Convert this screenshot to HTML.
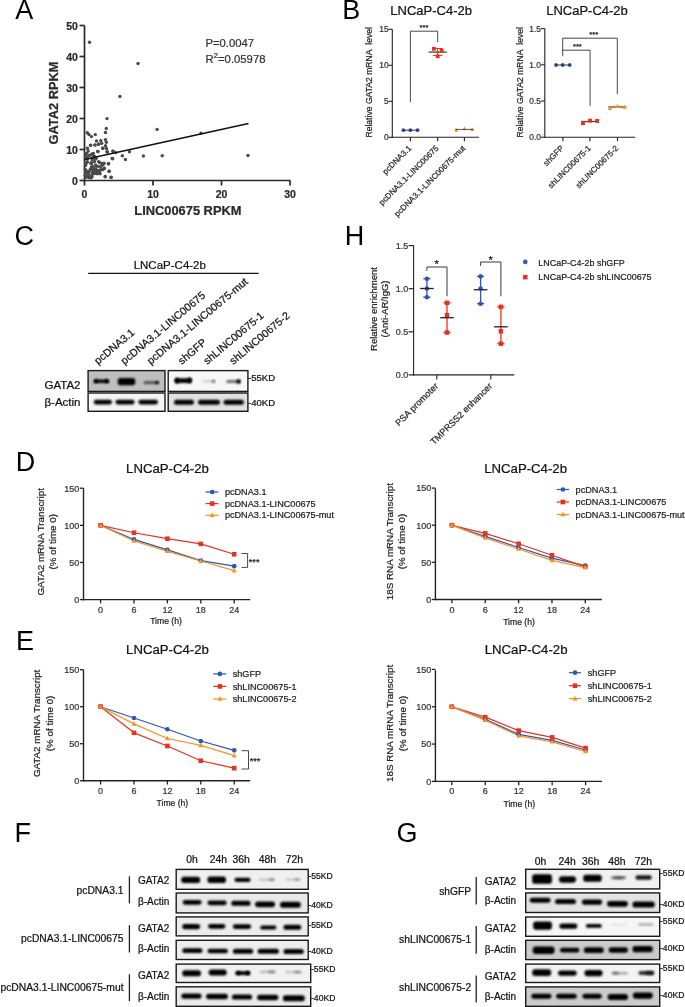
<!DOCTYPE html>
<html><head><meta charset="utf-8"><title>Figure</title>
<style>
html,body{margin:0;padding:0;background:#fff;}
body{width:685px;height:1007px;overflow:hidden;}
svg{display:block;font-family:"Liberation Sans", sans-serif;will-change:transform;}
</style></head><body>
<svg width="685" height="1007" viewBox="0 0 685 1007">
<defs><filter id="b1" x="-30%" y="-100%" width="160%" height="300%"><feGaussianBlur stdDeviation="0.85"/></filter></defs>
<rect width="685" height="1007" fill="#fff"/>
<text x="15.3" y="18.8" font-size="27" fill="#000">A</text>
<text x="342.2" y="18.7" font-size="27" fill="#000">B</text>
<text x="14.5" y="245" font-size="27" fill="#000">C</text>
<text x="344.8" y="245.1" font-size="27" fill="#000">H</text>
<text x="15.7" y="470.9" font-size="27" fill="#000">D</text>
<text x="15.9" y="649.6" font-size="27" fill="#000">E</text>
<text x="14.6" y="841.8" font-size="27" fill="#000">F</text>
<text x="396.6" y="841.6" font-size="27" fill="#000">G</text>
<line x1="84.5" y1="25.5" x2="84.5" y2="181.35" stroke="#2a2a2a" stroke-width="1.7"/>
<line x1="83.65" y1="180.5" x2="290.5" y2="180.5" stroke="#2a2a2a" stroke-width="1.7"/>
<line x1="79.5" y1="180.5" x2="84.5" y2="180.5" stroke="#2a2a2a" stroke-width="1.7"/>
<text x="77.9" y="185.2" font-size="10.5" text-anchor="end" font-weight="bold" fill="#2a2a2a" stroke="#2a2a2a" stroke-width="0.22">0</text>
<line x1="79.5" y1="149.5" x2="84.5" y2="149.5" stroke="#2a2a2a" stroke-width="1.7"/>
<text x="77.9" y="154.2" font-size="10.5" text-anchor="end" font-weight="bold" fill="#2a2a2a" stroke="#2a2a2a" stroke-width="0.22">10</text>
<line x1="79.5" y1="118.5" x2="84.5" y2="118.5" stroke="#2a2a2a" stroke-width="1.7"/>
<text x="77.9" y="123.2" font-size="10.5" text-anchor="end" font-weight="bold" fill="#2a2a2a" stroke="#2a2a2a" stroke-width="0.22">20</text>
<line x1="79.5" y1="87.5" x2="84.5" y2="87.5" stroke="#2a2a2a" stroke-width="1.7"/>
<text x="77.9" y="92.2" font-size="10.5" text-anchor="end" font-weight="bold" fill="#2a2a2a" stroke="#2a2a2a" stroke-width="0.22">30</text>
<line x1="79.5" y1="56.5" x2="84.5" y2="56.5" stroke="#2a2a2a" stroke-width="1.7"/>
<text x="77.9" y="61.2" font-size="10.5" text-anchor="end" font-weight="bold" fill="#2a2a2a" stroke="#2a2a2a" stroke-width="0.22">40</text>
<line x1="79.5" y1="25.5" x2="84.5" y2="25.5" stroke="#2a2a2a" stroke-width="1.7"/>
<text x="77.9" y="30.2" font-size="10.5" text-anchor="end" font-weight="bold" fill="#2a2a2a" stroke="#2a2a2a" stroke-width="0.22">50</text>
<line x1="84.5" y1="180.5" x2="84.5" y2="185.5" stroke="#2a2a2a" stroke-width="1.7"/>
<text x="84.5" y="197.5" font-size="10.5" text-anchor="middle" font-weight="bold" fill="#2a2a2a" stroke="#2a2a2a" stroke-width="0.22">0</text>
<line x1="153" y1="180.5" x2="153" y2="185.5" stroke="#2a2a2a" stroke-width="1.7"/>
<text x="153" y="197.5" font-size="10.5" text-anchor="middle" font-weight="bold" fill="#2a2a2a" stroke="#2a2a2a" stroke-width="0.22">10</text>
<line x1="221.5" y1="180.5" x2="221.5" y2="185.5" stroke="#2a2a2a" stroke-width="1.7"/>
<text x="221.5" y="197.5" font-size="10.5" text-anchor="middle" font-weight="bold" fill="#2a2a2a" stroke="#2a2a2a" stroke-width="0.22">20</text>
<line x1="290" y1="180.5" x2="290" y2="185.5" stroke="#2a2a2a" stroke-width="1.7"/>
<text x="290" y="197.5" font-size="10.5" text-anchor="middle" font-weight="bold" fill="#2a2a2a" stroke="#2a2a2a" stroke-width="0.22">30</text>
<text x="57.6" y="103" font-size="12.85" text-anchor="middle" font-weight="bold" fill="#2a2a2a" stroke="#2a2a2a" stroke-width="0.22" transform="rotate(-90 57.6 103)">GATA2 RPKM</text>
<text x="187.9" y="215" font-size="12.85" text-anchor="middle" font-weight="bold" fill="#2a2a2a" stroke="#2a2a2a" stroke-width="0.22">LINC00675 RPKM</text>
<text x="205.4" y="47" font-size="11.3" fill="#333" stroke="#333" stroke-width="0.22">P=0.0047</text>
<text x="205.4" y="62.9" font-size="11.3" fill="#333" stroke="#333" stroke-width="0.22">R<tspan font-size="8" dy="-4.9">2</tspan><tspan dy="4.9">=0.05978</tspan></text>
<circle cx="89.5" cy="42.3" r="1.7" fill="#4a4a4a"/>
<circle cx="138" cy="63.5" r="1.7" fill="#4a4a4a"/>
<circle cx="119.9" cy="96.5" r="1.7" fill="#4a4a4a"/>
<circle cx="107" cy="118.6" r="1.7" fill="#4a4a4a"/>
<circle cx="157.1" cy="129.4" r="1.7" fill="#4a4a4a"/>
<circle cx="201" cy="133.2" r="1.7" fill="#4a4a4a"/>
<circle cx="248" cy="155.5" r="1.7" fill="#4a4a4a"/>
<circle cx="162.2" cy="155.8" r="1.7" fill="#4a4a4a"/>
<circle cx="143.4" cy="156" r="1.7" fill="#4a4a4a"/>
<circle cx="129.5" cy="151.7" r="1.7" fill="#4a4a4a"/>
<circle cx="122.3" cy="155.8" r="1.7" fill="#4a4a4a"/>
<circle cx="125.4" cy="159.5" r="1.7" fill="#4a4a4a"/>
<circle cx="112.1" cy="158.5" r="1.7" fill="#4a4a4a"/>
<circle cx="106.3" cy="128.5" r="1.7" fill="#4a4a4a"/>
<circle cx="105.5" cy="132.5" r="1.7" fill="#4a4a4a"/>
<circle cx="87.3" cy="132.7" r="1.7" fill="#4a4a4a"/>
<circle cx="89" cy="134.5" r="1.7" fill="#4a4a4a"/>
<circle cx="91.5" cy="136.6" r="1.7" fill="#4a4a4a"/>
<circle cx="95.3" cy="134.6" r="1.7" fill="#4a4a4a"/>
<circle cx="96.5" cy="141" r="1.7" fill="#4a4a4a"/>
<circle cx="100.8" cy="140.6" r="1.7" fill="#4a4a4a"/>
<circle cx="105.5" cy="139.7" r="1.7" fill="#4a4a4a"/>
<circle cx="106.3" cy="142.3" r="1.7" fill="#4a4a4a"/>
<circle cx="101.7" cy="143.2" r="1.7" fill="#4a4a4a"/>
<circle cx="98.5" cy="144.3" r="1.7" fill="#4a4a4a"/>
<circle cx="95" cy="145.1" r="1.7" fill="#4a4a4a"/>
<circle cx="90.6" cy="145.4" r="1.7" fill="#4a4a4a"/>
<circle cx="105.5" cy="145.8" r="1.7" fill="#4a4a4a"/>
<circle cx="102.8" cy="148.2" r="1.7" fill="#4a4a4a"/>
<circle cx="106.5" cy="148.5" r="1.7" fill="#4a4a4a"/>
<circle cx="87.4" cy="148.2" r="1.7" fill="#4a4a4a"/>
<circle cx="107.4" cy="152" r="1.7" fill="#4a4a4a"/>
<circle cx="113.1" cy="151.1" r="1.7" fill="#4a4a4a"/>
<circle cx="115.7" cy="152.6" r="1.7" fill="#4a4a4a"/>
<circle cx="97.9" cy="151.5" r="1.7" fill="#4a4a4a"/>
<circle cx="108.3" cy="163.8" r="1.7" fill="#4a4a4a"/>
<circle cx="109.2" cy="171.2" r="1.7" fill="#4a4a4a"/>
<circle cx="105.2" cy="176.8" r="1.7" fill="#4a4a4a"/>
<circle cx="111.1" cy="177.4" r="1.7" fill="#4a4a4a"/>
<circle cx="99.5" cy="172.6" r="1.7" fill="#4a4a4a"/>
<circle cx="94.3" cy="172.6" r="1.7" fill="#4a4a4a"/>
<circle cx="104.3" cy="168.2" r="1.7" fill="#4a4a4a"/>
<circle cx="103" cy="164.7" r="1.7" fill="#4a4a4a"/>
<circle cx="99.5" cy="162.5" r="1.7" fill="#4a4a4a"/>
<circle cx="109.1" cy="171.2" r="1.7" fill="#4a4a4a"/>
<circle cx="105.2" cy="176.5" r="1.7" fill="#4a4a4a"/>
<circle cx="111.1" cy="177.3" r="1.7" fill="#4a4a4a"/>
<circle cx="112.7" cy="158.7" r="1.7" fill="#4a4a4a"/>
<circle cx="108.6" cy="163.8" r="1.7" fill="#4a4a4a"/>
<circle cx="112.9" cy="151.2" r="1.7" fill="#4a4a4a"/>
<circle cx="97.8" cy="151.5" r="1.7" fill="#4a4a4a"/>
<circle cx="90.7" cy="145.1" r="1.7" fill="#4a4a4a"/>
<circle cx="95" cy="144.9" r="1.7" fill="#4a4a4a"/>
<circle cx="98.6" cy="144.3" r="1.7" fill="#4a4a4a"/>
<circle cx="102.7" cy="148.2" r="1.7" fill="#4a4a4a"/>
<circle cx="107" cy="151.8" r="1.7" fill="#4a4a4a"/>
<circle cx="97.76" cy="171.25" r="1.7" fill="#4a4a4a"/>
<circle cx="85.88" cy="162.97" r="1.7" fill="#4a4a4a"/>
<circle cx="104.17" cy="168.47" r="1.7" fill="#4a4a4a"/>
<circle cx="94.68" cy="156.4" r="1.7" fill="#4a4a4a"/>
<circle cx="96.18" cy="166.22" r="1.7" fill="#4a4a4a"/>
<circle cx="85.56" cy="155.5" r="1.7" fill="#4a4a4a"/>
<circle cx="90.89" cy="176.49" r="1.7" fill="#4a4a4a"/>
<circle cx="85.34" cy="175.14" r="1.7" fill="#4a4a4a"/>
<circle cx="89.49" cy="155.46" r="1.7" fill="#4a4a4a"/>
<circle cx="91.09" cy="177.84" r="1.7" fill="#4a4a4a"/>
<circle cx="96.08" cy="169.33" r="1.7" fill="#4a4a4a"/>
<circle cx="89.4" cy="177.23" r="1.7" fill="#4a4a4a"/>
<circle cx="92.52" cy="153.98" r="1.7" fill="#4a4a4a"/>
<circle cx="88.21" cy="150.95" r="1.7" fill="#4a4a4a"/>
<circle cx="91.33" cy="167.09" r="1.7" fill="#4a4a4a"/>
<circle cx="85.37" cy="169.34" r="1.7" fill="#4a4a4a"/>
<circle cx="92.06" cy="158.3" r="1.7" fill="#4a4a4a"/>
<circle cx="101.67" cy="163.42" r="1.7" fill="#4a4a4a"/>
<circle cx="91.62" cy="163.44" r="1.7" fill="#4a4a4a"/>
<circle cx="85.66" cy="172.63" r="1.7" fill="#4a4a4a"/>
<circle cx="92.62" cy="166.36" r="1.7" fill="#4a4a4a"/>
<circle cx="88.92" cy="177.66" r="1.7" fill="#4a4a4a"/>
<circle cx="89.23" cy="171.67" r="1.7" fill="#4a4a4a"/>
<circle cx="92.19" cy="159.64" r="1.7" fill="#4a4a4a"/>
<circle cx="95.79" cy="172.27" r="1.7" fill="#4a4a4a"/>
<circle cx="87.46" cy="171.45" r="1.7" fill="#4a4a4a"/>
<circle cx="86.03" cy="177.37" r="1.7" fill="#4a4a4a"/>
<circle cx="87.12" cy="159.22" r="1.7" fill="#4a4a4a"/>
<circle cx="92.1" cy="176.73" r="1.7" fill="#4a4a4a"/>
<circle cx="96.2" cy="158.37" r="1.7" fill="#4a4a4a"/>
<circle cx="91.64" cy="154.32" r="1.7" fill="#4a4a4a"/>
<circle cx="86.86" cy="153.47" r="1.7" fill="#4a4a4a"/>
<circle cx="93.42" cy="156.12" r="1.7" fill="#4a4a4a"/>
<circle cx="97.18" cy="173.79" r="1.7" fill="#4a4a4a"/>
<circle cx="94.41" cy="161.65" r="1.7" fill="#4a4a4a"/>
<circle cx="86.41" cy="176.48" r="1.7" fill="#4a4a4a"/>
<circle cx="85.95" cy="163.81" r="1.7" fill="#4a4a4a"/>
<circle cx="97.91" cy="172.64" r="1.7" fill="#4a4a4a"/>
<circle cx="87.43" cy="162.04" r="1.7" fill="#4a4a4a"/>
<circle cx="88.28" cy="174.34" r="1.7" fill="#4a4a4a"/>
<circle cx="91.2" cy="162.59" r="1.7" fill="#4a4a4a"/>
<circle cx="95.06" cy="170.89" r="1.7" fill="#4a4a4a"/>
<circle cx="94.88" cy="157.73" r="1.7" fill="#4a4a4a"/>
<circle cx="93.38" cy="153.4" r="1.7" fill="#4a4a4a"/>
<circle cx="95.29" cy="159.15" r="1.7" fill="#4a4a4a"/>
<circle cx="87.08" cy="157.17" r="1.7" fill="#4a4a4a"/>
<circle cx="92.53" cy="172.58" r="1.7" fill="#4a4a4a"/>
<circle cx="100.8" cy="169.84" r="1.7" fill="#4a4a4a"/>
<circle cx="98.58" cy="171.79" r="1.7" fill="#4a4a4a"/>
<circle cx="92.57" cy="170.13" r="1.7" fill="#4a4a4a"/>
<circle cx="90.92" cy="163.57" r="1.7" fill="#4a4a4a"/>
<circle cx="100.69" cy="169.73" r="1.7" fill="#4a4a4a"/>
<circle cx="91.18" cy="177.37" r="1.7" fill="#4a4a4a"/>
<circle cx="98.29" cy="166.42" r="1.7" fill="#4a4a4a"/>
<circle cx="85.53" cy="165.41" r="1.7" fill="#4a4a4a"/>
<circle cx="90.31" cy="169.15" r="1.7" fill="#4a4a4a"/>
<circle cx="94.56" cy="173.5" r="1.7" fill="#4a4a4a"/>
<circle cx="98.25" cy="172.93" r="1.7" fill="#4a4a4a"/>
<circle cx="92.26" cy="168.32" r="1.7" fill="#4a4a4a"/>
<circle cx="100.06" cy="173.85" r="1.7" fill="#4a4a4a"/>
<circle cx="92.3" cy="174.29" r="1.7" fill="#4a4a4a"/>
<circle cx="102.7" cy="169.65" r="1.7" fill="#4a4a4a"/>
<circle cx="95.66" cy="164.88" r="1.7" fill="#4a4a4a"/>
<circle cx="88.62" cy="174.1" r="1.7" fill="#4a4a4a"/>
<circle cx="104.05" cy="163.32" r="1.7" fill="#4a4a4a"/>
<circle cx="99.13" cy="170.59" r="1.7" fill="#4a4a4a"/>
<circle cx="100.91" cy="166.43" r="1.7" fill="#4a4a4a"/>
<circle cx="98.61" cy="161.62" r="1.7" fill="#4a4a4a"/>
<circle cx="97.77" cy="172.24" r="1.7" fill="#4a4a4a"/>
<circle cx="98.04" cy="170.61" r="1.7" fill="#4a4a4a"/>
<circle cx="85.85" cy="153.8" r="1.7" fill="#4a4a4a"/>
<circle cx="94.12" cy="168.5" r="1.7" fill="#4a4a4a"/>
<line x1="84.5" y1="159.6" x2="248.5" y2="123.6" stroke="#111" stroke-width="1.5"/>
<text x="431.2" y="15.3" font-size="13" text-anchor="middle" fill="#111" stroke="#111" stroke-width="0.22">LNCaP-C4-2b</text>
<line x1="392.3" y1="29.3" x2="392.3" y2="137.8" stroke="#222" stroke-width="1.1"/>
<line x1="391.8" y1="137.3" x2="479" y2="137.3" stroke="#222" stroke-width="1.1"/>
<line x1="388.5" y1="137.3" x2="392.3" y2="137.3" stroke="#222" stroke-width="1.1"/>
<text x="388.6" y="140.3" font-size="8.4" text-anchor="end" fill="#333" stroke="#333" stroke-width="0.22">0</text>
<line x1="388.5" y1="101.3" x2="392.3" y2="101.3" stroke="#222" stroke-width="1.1"/>
<text x="388.6" y="104.3" font-size="8.4" text-anchor="end" fill="#333" stroke="#333" stroke-width="0.22">5</text>
<line x1="388.5" y1="65.3" x2="392.3" y2="65.3" stroke="#222" stroke-width="1.1"/>
<text x="388.6" y="68.3" font-size="8.4" text-anchor="end" fill="#333" stroke="#333" stroke-width="0.22">10</text>
<line x1="388.5" y1="29.3" x2="392.3" y2="29.3" stroke="#222" stroke-width="1.1"/>
<text x="388.6" y="32.3" font-size="8.4" text-anchor="end" fill="#333" stroke="#333" stroke-width="0.22">15</text>
<text x="372.3" y="82.3" font-size="8.6" text-anchor="middle" fill="#222" stroke="#222" stroke-width="0.22" transform="rotate(-90 372.3 82.3)">Relative GATA2 mRNA&#160; level</text>
<line x1="410.4" y1="137.3" x2="410.4" y2="141.3" stroke="#222" stroke-width="1.1"/>
<text x="411.9" y="148.8" font-size="8.1" text-anchor="end" fill="#222" stroke="#222" stroke-width="0.22" transform="rotate(-45 411.9 148.8)">pcDNA3.1</text>
<line x1="437.7" y1="137.3" x2="437.7" y2="141.3" stroke="#222" stroke-width="1.1"/>
<text x="439.2" y="148.8" font-size="8.1" text-anchor="end" fill="#222" stroke="#222" stroke-width="0.22" transform="rotate(-45 439.2 148.8)">pcDNA3.1-LINC00675</text>
<line x1="464.4" y1="137.3" x2="464.4" y2="141.3" stroke="#222" stroke-width="1.1"/>
<text x="465.9" y="148.8" font-size="8.1" text-anchor="end" fill="#222" stroke="#222" stroke-width="0.22" transform="rotate(-45 465.9 148.8)">pcDNA3.1-LINC00675-mut</text>
<circle cx="403.4" cy="130.2" r="1.9" fill="#2f56b8"/>
<circle cx="410.4" cy="130.2" r="1.9" fill="#2f56b8"/>
<circle cx="417.6" cy="130.2" r="1.9" fill="#2f56b8"/>
<line x1="402.5" y1="130.2" x2="418.5" y2="130.2" stroke="#222" stroke-width="0.9"/>
<line x1="437.6" y1="48.5" x2="437.6" y2="55.4" stroke="#e6321f" stroke-width="1"/>
<line x1="432.8" y1="48.5" x2="442.6" y2="48.5" stroke="#e6321f" stroke-width="1"/>
<line x1="432.8" y1="55.4" x2="442.6" y2="55.4" stroke="#e6321f" stroke-width="1"/>
<line x1="428.6" y1="52.1" x2="446.9" y2="52.1" stroke="#444" stroke-width="1.3"/>
<rect x="432" y="46.9" width="3.8" height="3.8" fill="#e6321f"/>
<rect x="439.7" y="48.6" width="3.8" height="3.8" fill="#e6321f"/>
<rect x="435.8" y="54.4" width="3.8" height="3.8" fill="#e6321f"/>
<polygon points="456.5,127.93 454.4,131.71 458.6,131.71" fill="#f7941e"/>
<polygon points="464.4,126.43 462.3,130.21 466.5,130.21" fill="#f7941e"/>
<polygon points="472.2,127.33 470.1,131.11 474.3,131.11" fill="#f7941e"/>
<line x1="455" y1="129.4" x2="473.5" y2="129.4" stroke="#444" stroke-width="0.9"/>
<polyline points="410.4,102 410.4,31.2 437.7,31.2 437.7,42" fill="none" stroke="#333" stroke-width="0.9" stroke-linejoin="round"/>
<text x="424" y="30" font-size="7.6" text-anchor="middle" fill="#111" stroke="#111" stroke-width="0.22">***</text>
<text x="587" y="15.3" font-size="13" text-anchor="middle" fill="#111" stroke="#111" stroke-width="0.22">LNCaP-C4-2b</text>
<line x1="544.8" y1="28.6" x2="544.8" y2="137.7" stroke="#222" stroke-width="1.1"/>
<line x1="544.3" y1="137.2" x2="635.2" y2="137.2" stroke="#222" stroke-width="1.1"/>
<line x1="541" y1="137.2" x2="544.8" y2="137.2" stroke="#222" stroke-width="1.1"/>
<text x="541" y="140.2" font-size="8.4" text-anchor="end" fill="#333" stroke="#333" stroke-width="0.22">0.0</text>
<line x1="541" y1="101" x2="544.8" y2="101" stroke="#222" stroke-width="1.1"/>
<text x="541" y="104" font-size="8.4" text-anchor="end" fill="#333" stroke="#333" stroke-width="0.22">0.5</text>
<line x1="541" y1="64.8" x2="544.8" y2="64.8" stroke="#222" stroke-width="1.1"/>
<text x="541" y="67.8" font-size="8.4" text-anchor="end" fill="#333" stroke="#333" stroke-width="0.22">1.0</text>
<line x1="541" y1="28.6" x2="544.8" y2="28.6" stroke="#222" stroke-width="1.1"/>
<text x="541" y="31.6" font-size="8.4" text-anchor="end" fill="#333" stroke="#333" stroke-width="0.22">1.5</text>
<text x="522.8" y="82.3" font-size="8.6" text-anchor="middle" fill="#222" stroke="#222" stroke-width="0.22" transform="rotate(-90 522.8 82.3)">Relative GATA2 mRNA&#160; level</text>
<line x1="562.9" y1="137.2" x2="562.9" y2="141.2" stroke="#222" stroke-width="1.1"/>
<text x="564.4" y="148.7" font-size="8.1" text-anchor="end" fill="#222" stroke="#222" stroke-width="0.22" transform="rotate(-45 564.4 148.7)">shGFP</text>
<line x1="589.9" y1="137.2" x2="589.9" y2="141.2" stroke="#222" stroke-width="1.1"/>
<text x="591.4" y="148.7" font-size="8.1" text-anchor="end" fill="#222" stroke="#222" stroke-width="0.22" transform="rotate(-45 591.4 148.7)">shLINC00675-1</text>
<line x1="617.5" y1="137.2" x2="617.5" y2="141.2" stroke="#222" stroke-width="1.1"/>
<text x="619" y="148.7" font-size="8.1" text-anchor="end" fill="#222" stroke="#222" stroke-width="0.22" transform="rotate(-45 619 148.7)">shLINC00675-2</text>
<circle cx="556" cy="65" r="1.9" fill="#2f56b8"/>
<circle cx="562.7" cy="65" r="1.9" fill="#2f56b8"/>
<circle cx="569.7" cy="65" r="1.9" fill="#2f56b8"/>
<line x1="555" y1="65" x2="571" y2="65" stroke="#222" stroke-width="0.9"/>
<line x1="581.4" y1="121.5" x2="599" y2="121.5" stroke="#444" stroke-width="1.3"/>
<rect x="581.05" y="121.15" width="3.9" height="3.9" fill="#e6321f"/>
<rect x="588.15" y="118.75" width="3.9" height="3.9" fill="#e6321f"/>
<rect x="595.25" y="118.95" width="3.9" height="3.9" fill="#e6321f"/>
<line x1="608.3" y1="107" x2="626.4" y2="107" stroke="#444" stroke-width="1.3"/>
<line x1="613" y1="106.2" x2="622" y2="106.2" stroke="#f7941e" stroke-width="1"/>
<polygon points="609.9,105.92 607.7,109.88 612.1,109.88" fill="#f7941e"/>
<polygon points="617.6,104.02 615.4,107.98 619.8,107.98" fill="#f7941e"/>
<polygon points="624.6,104.82 622.4,108.78 626.8,108.78" fill="#f7941e"/>
<polyline points="562.7,56.2 562.7,38.2 617.3,38.2 617.3,94" fill="none" stroke="#333" stroke-width="0.9" stroke-linejoin="round"/>
<polyline points="562.7,50.2 590.1,50.2 590.1,105.9" fill="none" stroke="#333" stroke-width="0.9" stroke-linejoin="round"/>
<text x="577.4" y="49" font-size="7.6" text-anchor="middle" fill="#111" stroke="#111" stroke-width="0.22">***</text>
<text x="593.8" y="37" font-size="7.6" text-anchor="middle" fill="#111" stroke="#111" stroke-width="0.22">***</text>
<text x="169.8" y="269" font-size="11.5" text-anchor="middle" fill="#111" stroke="#111" stroke-width="0.22">LNCaP-C4-2b</text>
<line x1="88.2" y1="273.4" x2="258.7" y2="273.4" stroke="#111" stroke-width="1.3"/>
<text x="98" y="364.9" font-size="10.7" fill="#111" stroke="#111" stroke-width="0.22" transform="rotate(-40 98 364.9)">pcDNA3.1</text>
<text x="124.6" y="364.9" font-size="10.7" fill="#111" stroke="#111" stroke-width="0.22" transform="rotate(-40 124.6 364.9)">pcDNA3.1-LINC00675</text>
<text x="150.8" y="364.9" font-size="10.7" fill="#111" stroke="#111" stroke-width="0.22" transform="rotate(-40 150.8 364.9)">pcDNA3.1-LINC00675-mut</text>
<text x="181.8" y="364.9" font-size="10.7" fill="#111" stroke="#111" stroke-width="0.22" transform="rotate(-40 181.8 364.9)">shGFP</text>
<text x="207.2" y="364.9" font-size="10.7" fill="#111" stroke="#111" stroke-width="0.22" transform="rotate(-40 207.2 364.9)">shLINC00675-1</text>
<text x="233.3" y="364.9" font-size="10.7" fill="#111" stroke="#111" stroke-width="0.22" transform="rotate(-40 233.3 364.9)">shLINC00675-2</text>
<rect x="88.1" y="370.6" width="76.9" height="20.8" fill="#bebebe" stroke="#1a1a1a" stroke-width="1.4"/>
<rect x="88.1" y="393" width="76.9" height="18.3" fill="#f5f5f5" stroke="#1a1a1a" stroke-width="1.4"/>
<rect x="168.2" y="370.6" width="79.7" height="20.8" fill="#f7f7f7" stroke="#1a1a1a" stroke-width="1.4"/>
<rect x="168.2" y="393" width="79.7" height="18.3" fill="#e2e2e2" stroke="#1a1a1a" stroke-width="1.4"/>
<text x="44.5" y="388.8" font-size="11.5" fill="#111" stroke="#111" stroke-width="0.22">GATA2</text>
<text x="44.5" y="405.6" font-size="11.5" fill="#111" stroke="#111" stroke-width="0.22">&#946;-Actin</text>
<text x="248" y="380.7" font-size="9.6" fill="#111" stroke="#111" stroke-width="0.22">-55KD</text>
<text x="248" y="405.6" font-size="9.6" fill="#111" stroke="#111" stroke-width="0.22">-40KD</text>
<rect x="93.65" y="379.4" width="15.5" height="3.6" rx="1.8" fill="#000" opacity="1" filter="url(#b1)"/>
<rect x="94.25" y="379.1" width="3.5" height="4.2" rx="2.1" fill="#000" opacity="1" filter="url(#b1)"/>
<rect x="105.05" y="379.1" width="3.5" height="4.2" rx="2.1" fill="#000" opacity="1" filter="url(#b1)"/>
<rect x="117.75" y="377.9" width="17.5" height="7.4" rx="2.8" fill="#000" opacity="1" filter="url(#b1)"/>
<rect x="143.55" y="381.3" width="15.5" height="2.6" rx="1.3" fill="#000" opacity="0.6" filter="url(#b1)"/>
<rect x="155.25" y="380.9" width="3.5" height="3.4" rx="1.7" fill="#000" opacity="0.9" filter="url(#b1)"/>
<rect x="174.45" y="378.2" width="17.5" height="4.8" rx="2.4" fill="#000" opacity="1" filter="url(#b1)"/>
<rect x="175" y="377.7" width="4" height="5.8" rx="2.8" fill="#000" opacity="1" filter="url(#b1)"/>
<rect x="187.6" y="377.5" width="4" height="5.8" rx="2.8" fill="#000" opacity="1" filter="url(#b1)"/>
<rect x="202.2" y="380.2" width="13" height="2" rx="1" fill="#000" opacity="0.18" filter="url(#b1)"/>
<rect x="211.9" y="379.7" width="3.2" height="3" rx="1.5" fill="#000" opacity="0.55" filter="url(#b1)"/>
<rect x="226.15" y="379.9" width="14.5" height="3" rx="1.5" fill="#000" opacity="0.55" filter="url(#b1)"/>
<rect x="236.5" y="379.2" width="4.2" height="4.4" rx="2.2" fill="#000" opacity="1" filter="url(#b1)"/>
<rect x="93.75" y="399.7" width="18.3" height="4.8" rx="2.4" fill="#000" opacity="1" filter="url(#b1)"/>
<rect x="115.4" y="399.7" width="19.2" height="4.8" rx="2.4" fill="#000" opacity="1" filter="url(#b1)"/>
<rect x="138.35" y="399.7" width="19.7" height="4.8" rx="2.4" fill="#000" opacity="1" filter="url(#b1)"/>
<rect x="174" y="399.7" width="20" height="5" rx="2.5" fill="#000" opacity="1" filter="url(#b1)"/>
<rect x="198.05" y="399.7" width="21.9" height="5" rx="2.5" fill="#000" opacity="1" filter="url(#b1)"/>
<rect x="223.55" y="399.7" width="20.3" height="5" rx="2.5" fill="#000" opacity="1" filter="url(#b1)"/>
<line x1="413.6" y1="245.5" x2="413.6" y2="375.4" stroke="#222" stroke-width="1.1"/>
<line x1="413.1" y1="374.9" x2="514.2" y2="374.9" stroke="#222" stroke-width="1.1"/>
<line x1="408.6" y1="374.9" x2="413.6" y2="374.9" stroke="#222" stroke-width="1.2"/>
<text x="408.3" y="378.1" font-size="9" text-anchor="end" fill="#333" stroke="#333" stroke-width="0.22">0.0</text>
<line x1="408.6" y1="331.8" x2="413.6" y2="331.8" stroke="#222" stroke-width="1.2"/>
<text x="408.3" y="335" font-size="9" text-anchor="end" fill="#333" stroke="#333" stroke-width="0.22">0.5</text>
<line x1="408.6" y1="288.7" x2="413.6" y2="288.7" stroke="#222" stroke-width="1.2"/>
<text x="408.3" y="291.9" font-size="9" text-anchor="end" fill="#333" stroke="#333" stroke-width="0.22">1.0</text>
<line x1="408.6" y1="245.6" x2="413.6" y2="245.6" stroke="#222" stroke-width="1.2"/>
<text x="408.3" y="248.8" font-size="9" text-anchor="end" fill="#333" stroke="#333" stroke-width="0.22">1.5</text>
<text x="376.5" y="309" font-size="9.5" text-anchor="middle" fill="#222" stroke="#222" stroke-width="0.22" transform="rotate(-90 376.5 309)">Relative enrichment</text>
<text x="387.6" y="309" font-size="9.5" text-anchor="middle" fill="#222" stroke="#222" stroke-width="0.22" transform="rotate(-90 387.6 309)">(Anti-AR/IgG)</text>
<line x1="436.8" y1="374.9" x2="436.8" y2="379.4" stroke="#222" stroke-width="1.1"/>
<text x="438.8" y="386.7" font-size="9.05" text-anchor="end" fill="#222" stroke="#222" stroke-width="0.22" transform="rotate(-45 438.8 386.7)">PSA promoter</text>
<line x1="490.8" y1="374.9" x2="490.8" y2="379.4" stroke="#222" stroke-width="1.1"/>
<text x="492.8" y="386.7" font-size="9.05" text-anchor="end" fill="#222" stroke="#222" stroke-width="0.22" transform="rotate(-45 492.8 386.7)">TMPRSS2 enhancer</text>
<line x1="426.9" y1="278.7" x2="426.9" y2="297.2" stroke="#2f56b8" stroke-width="1.3"/>
<line x1="423.3" y1="278.7" x2="430.5" y2="278.7" stroke="#2f56b8" stroke-width="1.3"/>
<line x1="423.3" y1="297.2" x2="430.5" y2="297.2" stroke="#2f56b8" stroke-width="1.3"/>
<circle cx="426.9" cy="278.7" r="2.3" fill="#2f56b8"/>
<circle cx="426.9" cy="288.5" r="2.3" fill="#2f56b8"/>
<circle cx="426.9" cy="297.2" r="2.3" fill="#2f56b8"/>
<line x1="420.1" y1="288.5" x2="433.7" y2="288.5" stroke="#222" stroke-width="1.3"/>
<line x1="447" y1="302.8" x2="447" y2="332.5" stroke="#e6321f" stroke-width="1.3"/>
<line x1="443.4" y1="302.8" x2="450.6" y2="302.8" stroke="#e6321f" stroke-width="1.3"/>
<line x1="443.4" y1="332.5" x2="450.6" y2="332.5" stroke="#e6321f" stroke-width="1.3"/>
<rect x="444.75" y="300.55" width="4.5" height="4.5" fill="#e6321f"/>
<rect x="444.75" y="312.95" width="4.5" height="4.5" fill="#e6321f"/>
<rect x="444.75" y="330.25" width="4.5" height="4.5" fill="#e6321f"/>
<line x1="440.2" y1="317.7" x2="453.8" y2="317.7" stroke="#222" stroke-width="1.3"/>
<line x1="480.6" y1="276.4" x2="480.6" y2="303.7" stroke="#2f56b8" stroke-width="1.3"/>
<line x1="477" y1="276.4" x2="484.2" y2="276.4" stroke="#2f56b8" stroke-width="1.3"/>
<line x1="477" y1="303.7" x2="484.2" y2="303.7" stroke="#2f56b8" stroke-width="1.3"/>
<circle cx="480.6" cy="276.4" r="2.3" fill="#2f56b8"/>
<circle cx="480.6" cy="288.5" r="2.3" fill="#2f56b8"/>
<circle cx="480.6" cy="303.7" r="2.3" fill="#2f56b8"/>
<line x1="473.8" y1="289.7" x2="487.4" y2="289.7" stroke="#222" stroke-width="1.3"/>
<line x1="500.9" y1="306.8" x2="500.9" y2="343.7" stroke="#e6321f" stroke-width="1.3"/>
<line x1="497.3" y1="306.8" x2="504.5" y2="306.8" stroke="#e6321f" stroke-width="1.3"/>
<line x1="497.3" y1="343.7" x2="504.5" y2="343.7" stroke="#e6321f" stroke-width="1.3"/>
<rect x="498.65" y="304.55" width="4.5" height="4.5" fill="#e6321f"/>
<rect x="498.65" y="329.05" width="4.5" height="4.5" fill="#e6321f"/>
<rect x="498.65" y="341.45" width="4.5" height="4.5" fill="#e6321f"/>
<line x1="494.1" y1="326.8" x2="507.7" y2="326.8" stroke="#222" stroke-width="1.3"/>
<polyline points="426.9,270.8 426.9,267 447,267 447,296.2" fill="none" stroke="#3a3a3a" stroke-width="1" stroke-linejoin="round"/>
<polyline points="480.6,265.8 480.6,262 500.9,262 500.9,296.2" fill="none" stroke="#3a3a3a" stroke-width="1" stroke-linejoin="round"/>
<text x="436.7" y="268.1" font-size="11" text-anchor="middle" fill="#111" stroke="#111" stroke-width="0.22">*</text>
<text x="490.7" y="263.6" font-size="11" text-anchor="middle" fill="#111" stroke="#111" stroke-width="0.22">*</text>
<circle cx="525.3" cy="261.9" r="2.3" fill="#2f56b8"/>
<rect x="523.05" y="274.95" width="4.5" height="4.5" fill="#e6321f"/>
<text x="538.3" y="265.5" font-size="8.95" fill="#222" stroke="#222" stroke-width="0.22">LNCaP-C4-2b shGFP</text>
<text x="538.3" y="280.2" font-size="8.95" fill="#222" stroke="#222" stroke-width="0.22">LNCaP-C4-2b shLINC00675</text>
<line x1="83.5" y1="488.2" x2="83.5" y2="600.3" stroke="#222" stroke-width="1.4"/>
<line x1="82.8" y1="599.6" x2="250.2" y2="599.6" stroke="#222" stroke-width="1.4"/>
<line x1="79.9" y1="599.6" x2="83.5" y2="599.6" stroke="#222" stroke-width="1.3"/>
<text x="79.3" y="602.9" font-size="9" text-anchor="end" fill="#333" stroke="#333" stroke-width="0.22">0</text>
<line x1="79.9" y1="562.47" x2="83.5" y2="562.47" stroke="#222" stroke-width="1.3"/>
<text x="79.3" y="565.76" font-size="9" text-anchor="end" fill="#333" stroke="#333" stroke-width="0.22">50</text>
<line x1="79.9" y1="525.33" x2="83.5" y2="525.33" stroke="#222" stroke-width="1.3"/>
<text x="79.3" y="528.63" font-size="9" text-anchor="end" fill="#333" stroke="#333" stroke-width="0.22">100</text>
<line x1="79.9" y1="488.2" x2="83.5" y2="488.2" stroke="#222" stroke-width="1.3"/>
<text x="79.3" y="491.5" font-size="9" text-anchor="end" fill="#333" stroke="#333" stroke-width="0.22">150</text>
<line x1="100.6" y1="599.6" x2="100.6" y2="603.4" stroke="#222" stroke-width="1.3"/>
<text x="100.6" y="612.6" font-size="9" text-anchor="middle" fill="#333" stroke="#333" stroke-width="0.22">0</text>
<line x1="134" y1="599.6" x2="134" y2="603.4" stroke="#222" stroke-width="1.3"/>
<text x="134" y="612.6" font-size="9" text-anchor="middle" fill="#333" stroke="#333" stroke-width="0.22">6</text>
<line x1="167.4" y1="599.6" x2="167.4" y2="603.4" stroke="#222" stroke-width="1.3"/>
<text x="167.4" y="612.6" font-size="9" text-anchor="middle" fill="#333" stroke="#333" stroke-width="0.22">12</text>
<line x1="200.81" y1="599.6" x2="200.81" y2="603.4" stroke="#222" stroke-width="1.3"/>
<text x="200.81" y="612.6" font-size="9" text-anchor="middle" fill="#333" stroke="#333" stroke-width="0.22">18</text>
<line x1="234.21" y1="599.6" x2="234.21" y2="603.4" stroke="#222" stroke-width="1.3"/>
<text x="234.21" y="612.6" font-size="9" text-anchor="middle" fill="#333" stroke="#333" stroke-width="0.22">24</text>
<text x="166" y="624.4" font-size="8.6" text-anchor="middle" fill="#222" stroke="#222" stroke-width="0.22">Time (h)</text>
<text x="126.1" y="472.6" font-size="13.2" fill="#111" stroke="#111" stroke-width="0.22">LNCaP-C4-2b</text>
<text x="43.9" y="541.8" font-size="9.8" text-anchor="middle" fill="#222" stroke="#222" stroke-width="0.22" transform="rotate(-90 43.9 541.8)">GATA2 mRNA Transcript</text>
<text x="56.2" y="541.8" font-size="9.8" text-anchor="middle" fill="#222" stroke="#222" stroke-width="0.22" transform="rotate(-90 56.2 541.8)">(% of time 0)</text>
<polyline points="100.6,525.33 134,539.44 167.4,549.84 200.81,560.61 234.21,566.18" fill="none" stroke="#2f56b8" stroke-width="1.2" stroke-linejoin="round"/>
<polyline points="100.6,525.33 134,532.76 167.4,538.7 200.81,543.9 234.21,554.3" fill="none" stroke="#e6321f" stroke-width="1.2" stroke-linejoin="round"/>
<polyline points="100.6,525.33 134,540.93 167.4,551.32 200.81,560.98 234.21,570.63" fill="none" stroke="#f7941e" stroke-width="1.2" stroke-linejoin="round"/>
<circle cx="100.6" cy="525.33" r="2.35" fill="#2f56b8"/>
<circle cx="134" cy="539.44" r="2.35" fill="#2f56b8"/>
<circle cx="167.4" cy="549.84" r="2.35" fill="#2f56b8"/>
<circle cx="200.81" cy="560.61" r="2.35" fill="#2f56b8"/>
<circle cx="234.21" cy="566.18" r="2.35" fill="#2f56b8"/>
<rect x="98.3" y="523.03" width="4.6" height="4.6" fill="#e6321f"/>
<rect x="131.7" y="530.46" width="4.6" height="4.6" fill="#e6321f"/>
<rect x="165.1" y="536.4" width="4.6" height="4.6" fill="#e6321f"/>
<rect x="198.51" y="541.6" width="4.6" height="4.6" fill="#e6321f"/>
<rect x="231.91" y="552" width="4.6" height="4.6" fill="#e6321f"/>
<polygon points="100.6,522.63 98.1,527.13 103.1,527.13" fill="#f7941e"/>
<polygon points="134,538.23 131.5,542.73 136.5,542.73" fill="#f7941e"/>
<polygon points="167.4,548.62 164.9,553.12 169.9,553.12" fill="#f7941e"/>
<polygon points="200.81,558.28 198.31,562.78 203.31,562.78" fill="#f7941e"/>
<polygon points="234.21,567.93 231.71,572.43 236.71,572.43" fill="#f7941e"/>
<line x1="205.5" y1="492" x2="218.5" y2="492" stroke="#2f56b8" stroke-width="1.2"/>
<circle cx="212.2" cy="492" r="2.35" fill="#2f56b8"/>
<text x="224.9" y="495.2" font-size="9.15" fill="#222" stroke="#222" stroke-width="0.22">pcDNA3.1</text>
<line x1="205.5" y1="503.6" x2="218.5" y2="503.6" stroke="#e6321f" stroke-width="1.2"/>
<rect x="209.9" y="501.3" width="4.6" height="4.6" fill="#e6321f"/>
<text x="224.9" y="506.8" font-size="9.15" fill="#222" stroke="#222" stroke-width="0.22">pcDNA3.1-LINC00675</text>
<line x1="205.5" y1="515.2" x2="218.5" y2="515.2" stroke="#f7941e" stroke-width="1.2"/>
<polygon points="212.2,512.5 209.7,517 214.7,517" fill="#f7941e"/>
<text x="224.9" y="518.4" font-size="9.15" fill="#222" stroke="#222" stroke-width="0.22">pcDNA3.1-LINC00675-mut</text>
<polyline points="241.5,553.5 247.6,553.5 247.6,567.4 241.5,567.4" fill="none" stroke="#333" stroke-width="0.9" stroke-linejoin="round"/>
<text x="248.8" y="565.05" font-size="9.2" fill="#111" stroke="#111" stroke-width="0.22">***</text>
<line x1="435.4" y1="488.5" x2="435.4" y2="600.2" stroke="#222" stroke-width="1.4"/>
<line x1="434.7" y1="599.5" x2="601.8" y2="599.5" stroke="#222" stroke-width="1.4"/>
<line x1="431.8" y1="599.5" x2="435.4" y2="599.5" stroke="#222" stroke-width="1.3"/>
<text x="431.2" y="602.8" font-size="9" text-anchor="end" fill="#333" stroke="#333" stroke-width="0.22">0</text>
<line x1="431.8" y1="562.37" x2="435.4" y2="562.37" stroke="#222" stroke-width="1.3"/>
<text x="431.2" y="565.66" font-size="9" text-anchor="end" fill="#333" stroke="#333" stroke-width="0.22">50</text>
<line x1="431.8" y1="525.23" x2="435.4" y2="525.23" stroke="#222" stroke-width="1.3"/>
<text x="431.2" y="528.53" font-size="9" text-anchor="end" fill="#333" stroke="#333" stroke-width="0.22">100</text>
<line x1="431.8" y1="488.1" x2="435.4" y2="488.1" stroke="#222" stroke-width="1.3"/>
<text x="431.2" y="491.4" font-size="9" text-anchor="end" fill="#333" stroke="#333" stroke-width="0.22">150</text>
<line x1="451.9" y1="599.5" x2="451.9" y2="603.3" stroke="#222" stroke-width="1.3"/>
<text x="451.9" y="612.6" font-size="9" text-anchor="middle" fill="#333" stroke="#333" stroke-width="0.22">0</text>
<line x1="485.25" y1="599.5" x2="485.25" y2="603.3" stroke="#222" stroke-width="1.3"/>
<text x="485.25" y="612.6" font-size="9" text-anchor="middle" fill="#333" stroke="#333" stroke-width="0.22">6</text>
<line x1="518.6" y1="599.5" x2="518.6" y2="603.3" stroke="#222" stroke-width="1.3"/>
<text x="518.6" y="612.6" font-size="9" text-anchor="middle" fill="#333" stroke="#333" stroke-width="0.22">12</text>
<line x1="551.94" y1="599.5" x2="551.94" y2="603.3" stroke="#222" stroke-width="1.3"/>
<text x="551.94" y="612.6" font-size="9" text-anchor="middle" fill="#333" stroke="#333" stroke-width="0.22">18</text>
<line x1="585.29" y1="599.5" x2="585.29" y2="603.3" stroke="#222" stroke-width="1.3"/>
<text x="585.29" y="612.6" font-size="9" text-anchor="middle" fill="#333" stroke="#333" stroke-width="0.22">24</text>
<text x="519" y="624.5" font-size="8.6" text-anchor="middle" fill="#222" stroke="#222" stroke-width="0.22">Time (h)</text>
<text x="484.2" y="472.7" font-size="13.2" fill="#111" stroke="#111" stroke-width="0.22">LNCaP-C4-2b</text>
<text x="392.9" y="541.6" font-size="9.8" text-anchor="middle" fill="#222" stroke="#222" stroke-width="0.22" transform="rotate(-90 392.9 541.6)">18S RNA mRNA Transcript</text>
<text x="405.3" y="541.6" font-size="9.8" text-anchor="middle" fill="#222" stroke="#222" stroke-width="0.22" transform="rotate(-90 405.3 541.6)">(% of time 0)</text>
<polyline points="451.9,525.23 485.25,536.37 518.6,547.51 551.94,558.13 585.29,565.71" fill="none" stroke="#2f56b8" stroke-width="1.2" stroke-linejoin="round"/>
<polyline points="451.9,525.23 485.25,533.4 518.6,543.8 551.94,555.24 585.29,566.82" fill="none" stroke="#e6321f" stroke-width="1.2" stroke-linejoin="round"/>
<polyline points="451.9,525.23 485.25,537.86 518.6,549 551.94,560.43 585.29,567.56" fill="none" stroke="#f7941e" stroke-width="1.2" stroke-linejoin="round"/>
<circle cx="451.9" cy="525.23" r="2.35" fill="#2f56b8"/>
<circle cx="485.25" cy="536.37" r="2.35" fill="#2f56b8"/>
<circle cx="518.6" cy="547.51" r="2.35" fill="#2f56b8"/>
<circle cx="551.94" cy="558.13" r="2.35" fill="#2f56b8"/>
<circle cx="585.29" cy="565.71" r="2.35" fill="#2f56b8"/>
<rect x="449.6" y="522.93" width="4.6" height="4.6" fill="#e6321f"/>
<rect x="482.95" y="531.1" width="4.6" height="4.6" fill="#e6321f"/>
<rect x="516.3" y="541.5" width="4.6" height="4.6" fill="#e6321f"/>
<rect x="549.64" y="552.94" width="4.6" height="4.6" fill="#e6321f"/>
<rect x="582.99" y="564.52" width="4.6" height="4.6" fill="#e6321f"/>
<polygon points="451.9,522.53 449.4,527.03 454.4,527.03" fill="#f7941e"/>
<polygon points="485.25,535.16 482.75,539.66 487.75,539.66" fill="#f7941e"/>
<polygon points="518.6,546.3 516.1,550.8 521.1,550.8" fill="#f7941e"/>
<polygon points="551.94,557.73 549.44,562.23 554.44,562.23" fill="#f7941e"/>
<polygon points="585.29,564.86 582.79,569.36 587.79,569.36" fill="#f7941e"/>
<line x1="556.7" y1="489.5" x2="569" y2="489.5" stroke="#2f56b8" stroke-width="1.2"/>
<circle cx="562.9" cy="489.5" r="2.35" fill="#2f56b8"/>
<text x="575.6" y="492.7" font-size="9.15" fill="#222" stroke="#222" stroke-width="0.22">pcDNA3.1</text>
<line x1="556.7" y1="502" x2="569" y2="502" stroke="#e6321f" stroke-width="1.2"/>
<rect x="560.6" y="499.7" width="4.6" height="4.6" fill="#e6321f"/>
<text x="575.6" y="505.2" font-size="9.15" fill="#222" stroke="#222" stroke-width="0.22">pcDNA3.1-LINC00675</text>
<line x1="556.7" y1="514.5" x2="569" y2="514.5" stroke="#f7941e" stroke-width="1.2"/>
<polygon points="562.9,511.8 560.4,516.3 565.4,516.3" fill="#f7941e"/>
<text x="575.6" y="517.7" font-size="9.15" fill="#222" stroke="#222" stroke-width="0.22">pcDNA3.1-LINC00675-mut</text>
<line x1="83.5" y1="669.7" x2="83.5" y2="781.4" stroke="#222" stroke-width="1.4"/>
<line x1="82.8" y1="780.7" x2="250.2" y2="780.7" stroke="#222" stroke-width="1.4"/>
<line x1="79.9" y1="780.7" x2="83.5" y2="780.7" stroke="#222" stroke-width="1.3"/>
<text x="79.3" y="784" font-size="9" text-anchor="end" fill="#333" stroke="#333" stroke-width="0.22">0</text>
<line x1="79.9" y1="743.7" x2="83.5" y2="743.7" stroke="#222" stroke-width="1.3"/>
<text x="79.3" y="747" font-size="9" text-anchor="end" fill="#333" stroke="#333" stroke-width="0.22">50</text>
<line x1="79.9" y1="706.7" x2="83.5" y2="706.7" stroke="#222" stroke-width="1.3"/>
<text x="79.3" y="710" font-size="9" text-anchor="end" fill="#333" stroke="#333" stroke-width="0.22">100</text>
<line x1="79.9" y1="669.7" x2="83.5" y2="669.7" stroke="#222" stroke-width="1.3"/>
<text x="79.3" y="673" font-size="9" text-anchor="end" fill="#333" stroke="#333" stroke-width="0.22">150</text>
<line x1="100.6" y1="780.7" x2="100.6" y2="784.5" stroke="#222" stroke-width="1.3"/>
<text x="100.6" y="793.7" font-size="9" text-anchor="middle" fill="#333" stroke="#333" stroke-width="0.22">0</text>
<line x1="134" y1="780.7" x2="134" y2="784.5" stroke="#222" stroke-width="1.3"/>
<text x="134" y="793.7" font-size="9" text-anchor="middle" fill="#333" stroke="#333" stroke-width="0.22">6</text>
<line x1="167.4" y1="780.7" x2="167.4" y2="784.5" stroke="#222" stroke-width="1.3"/>
<text x="167.4" y="793.7" font-size="9" text-anchor="middle" fill="#333" stroke="#333" stroke-width="0.22">12</text>
<line x1="200.81" y1="780.7" x2="200.81" y2="784.5" stroke="#222" stroke-width="1.3"/>
<text x="200.81" y="793.7" font-size="9" text-anchor="middle" fill="#333" stroke="#333" stroke-width="0.22">18</text>
<line x1="234.21" y1="780.7" x2="234.21" y2="784.5" stroke="#222" stroke-width="1.3"/>
<text x="234.21" y="793.7" font-size="9" text-anchor="middle" fill="#333" stroke="#333" stroke-width="0.22">24</text>
<text x="172.4" y="805.5" font-size="8.6" text-anchor="middle" fill="#222" stroke="#222" stroke-width="0.22">Time (h)</text>
<text x="126.1" y="654" font-size="13.2" fill="#111" stroke="#111" stroke-width="0.22">LNCaP-C4-2b</text>
<text x="40.3" y="723.4" font-size="9.8" text-anchor="middle" fill="#222" stroke="#222" stroke-width="0.22" transform="rotate(-90 40.3 723.4)">GATA2 mRNA Transcript</text>
<text x="52.9" y="723.4" font-size="9.8" text-anchor="middle" fill="#222" stroke="#222" stroke-width="0.22" transform="rotate(-90 52.9 723.4)">(% of time 0)</text>
<polyline points="100.6,706.7 134,718.02 167.4,729.27 200.81,741.04 234.21,750.36" fill="none" stroke="#2f56b8" stroke-width="1.2" stroke-linejoin="round"/>
<polyline points="100.6,706.7 134,732.82 167.4,745.99 200.81,760.72 234.21,768.19" fill="none" stroke="#e6321f" stroke-width="1.2" stroke-linejoin="round"/>
<polyline points="100.6,706.7 134,723.87 167.4,738.52 200.81,745.4 234.21,755.69" fill="none" stroke="#f7941e" stroke-width="1.2" stroke-linejoin="round"/>
<circle cx="100.6" cy="706.7" r="2.35" fill="#2f56b8"/>
<circle cx="134" cy="718.02" r="2.35" fill="#2f56b8"/>
<circle cx="167.4" cy="729.27" r="2.35" fill="#2f56b8"/>
<circle cx="200.81" cy="741.04" r="2.35" fill="#2f56b8"/>
<circle cx="234.21" cy="750.36" r="2.35" fill="#2f56b8"/>
<rect x="98.3" y="704.4" width="4.6" height="4.6" fill="#e6321f"/>
<rect x="131.7" y="730.52" width="4.6" height="4.6" fill="#e6321f"/>
<rect x="165.1" y="743.69" width="4.6" height="4.6" fill="#e6321f"/>
<rect x="198.51" y="758.42" width="4.6" height="4.6" fill="#e6321f"/>
<rect x="231.91" y="765.89" width="4.6" height="4.6" fill="#e6321f"/>
<polygon points="100.6,704 98.1,708.5 103.1,708.5" fill="#f7941e"/>
<polygon points="134,721.17 131.5,725.67 136.5,725.67" fill="#f7941e"/>
<polygon points="167.4,735.82 164.9,740.32 169.9,740.32" fill="#f7941e"/>
<polygon points="200.81,742.7 198.31,747.2 203.31,747.2" fill="#f7941e"/>
<polygon points="234.21,752.99 231.71,757.49 236.71,757.49" fill="#f7941e"/>
<line x1="213.2" y1="673.9" x2="226.3" y2="673.9" stroke="#2f56b8" stroke-width="1.2"/>
<circle cx="219.9" cy="673.9" r="2.35" fill="#2f56b8"/>
<text x="232.7" y="677.1" font-size="9.15" fill="#222" stroke="#222" stroke-width="0.22">shGFP</text>
<line x1="213.2" y1="686.4" x2="226.3" y2="686.4" stroke="#e6321f" stroke-width="1.2"/>
<rect x="217.6" y="684.1" width="4.6" height="4.6" fill="#e6321f"/>
<text x="232.7" y="689.6" font-size="9.15" fill="#222" stroke="#222" stroke-width="0.22">shLINC00675-1</text>
<line x1="213.2" y1="698.9" x2="226.3" y2="698.9" stroke="#f7941e" stroke-width="1.2"/>
<polygon points="219.9,696.2 217.4,700.7 222.4,700.7" fill="#f7941e"/>
<text x="232.7" y="702.1" font-size="9.15" fill="#222" stroke="#222" stroke-width="0.22">shLINC00675-2</text>
<polyline points="241.5,750.7 248.5,750.7 248.5,769 241.5,769" fill="none" stroke="#333" stroke-width="0.9" stroke-linejoin="round"/>
<text x="249.7" y="764.45" font-size="9.2" fill="#111" stroke="#111" stroke-width="0.22">***</text>
<line x1="435.4" y1="670.2" x2="435.4" y2="782.1" stroke="#222" stroke-width="1.4"/>
<line x1="434.7" y1="781.4" x2="602" y2="781.4" stroke="#222" stroke-width="1.4"/>
<line x1="431.8" y1="781.4" x2="435.4" y2="781.4" stroke="#222" stroke-width="1.3"/>
<text x="431.2" y="784.7" font-size="9" text-anchor="end" fill="#333" stroke="#333" stroke-width="0.22">0</text>
<line x1="431.8" y1="744.06" x2="435.4" y2="744.06" stroke="#222" stroke-width="1.3"/>
<text x="431.2" y="747.36" font-size="9" text-anchor="end" fill="#333" stroke="#333" stroke-width="0.22">50</text>
<line x1="431.8" y1="706.73" x2="435.4" y2="706.73" stroke="#222" stroke-width="1.3"/>
<text x="431.2" y="710.03" font-size="9" text-anchor="end" fill="#333" stroke="#333" stroke-width="0.22">100</text>
<line x1="431.8" y1="669.39" x2="435.4" y2="669.39" stroke="#222" stroke-width="1.3"/>
<text x="431.2" y="672.69" font-size="9" text-anchor="end" fill="#333" stroke="#333" stroke-width="0.22">150</text>
<line x1="451.8" y1="781.4" x2="451.8" y2="785.2" stroke="#222" stroke-width="1.3"/>
<text x="451.8" y="794.4" font-size="9" text-anchor="middle" fill="#333" stroke="#333" stroke-width="0.22">0</text>
<line x1="485.25" y1="781.4" x2="485.25" y2="785.2" stroke="#222" stroke-width="1.3"/>
<text x="485.25" y="794.4" font-size="9" text-anchor="middle" fill="#333" stroke="#333" stroke-width="0.22">6</text>
<line x1="518.7" y1="781.4" x2="518.7" y2="785.2" stroke="#222" stroke-width="1.3"/>
<text x="518.7" y="794.4" font-size="9" text-anchor="middle" fill="#333" stroke="#333" stroke-width="0.22">12</text>
<line x1="552.15" y1="781.4" x2="552.15" y2="785.2" stroke="#222" stroke-width="1.3"/>
<text x="552.15" y="794.4" font-size="9" text-anchor="middle" fill="#333" stroke="#333" stroke-width="0.22">18</text>
<line x1="585.6" y1="781.4" x2="585.6" y2="785.2" stroke="#222" stroke-width="1.3"/>
<text x="585.6" y="794.4" font-size="9" text-anchor="middle" fill="#333" stroke="#333" stroke-width="0.22">24</text>
<text x="519.3" y="807.2" font-size="8.6" text-anchor="middle" fill="#222" stroke="#222" stroke-width="0.22">Time (h)</text>
<text x="484.7" y="654" font-size="13.2" fill="#111" stroke="#111" stroke-width="0.22">LNCaP-C4-2b</text>
<text x="392.9" y="723.4" font-size="9.8" text-anchor="middle" fill="#222" stroke="#222" stroke-width="0.22" transform="rotate(-90 392.9 723.4)">18S RNA mRNA Transcript</text>
<text x="406.1" y="723.4" font-size="9.8" text-anchor="middle" fill="#222" stroke="#222" stroke-width="0.22" transform="rotate(-90 406.1 723.4)">(% of time 0)</text>
<polyline points="451.8,706.73 485.25,719.42 518.7,734.36 552.15,740.33 585.6,750.04" fill="none" stroke="#2f56b8" stroke-width="1.2" stroke-linejoin="round"/>
<polyline points="451.8,706.73 485.25,717.18 518.7,730.62 552.15,737.34 585.6,748.1" fill="none" stroke="#e6321f" stroke-width="1.2" stroke-linejoin="round"/>
<polyline points="451.8,706.73 485.25,720.17 518.7,735.85 552.15,741.82 585.6,751.53" fill="none" stroke="#f7941e" stroke-width="1.2" stroke-linejoin="round"/>
<circle cx="451.8" cy="706.73" r="2.35" fill="#2f56b8"/>
<circle cx="485.25" cy="719.42" r="2.35" fill="#2f56b8"/>
<circle cx="518.7" cy="734.36" r="2.35" fill="#2f56b8"/>
<circle cx="552.15" cy="740.33" r="2.35" fill="#2f56b8"/>
<circle cx="585.6" cy="750.04" r="2.35" fill="#2f56b8"/>
<rect x="449.5" y="704.43" width="4.6" height="4.6" fill="#e6321f"/>
<rect x="482.95" y="714.88" width="4.6" height="4.6" fill="#e6321f"/>
<rect x="516.4" y="728.32" width="4.6" height="4.6" fill="#e6321f"/>
<rect x="549.85" y="735.04" width="4.6" height="4.6" fill="#e6321f"/>
<rect x="583.3" y="745.8" width="4.6" height="4.6" fill="#e6321f"/>
<polygon points="451.8,704.03 449.3,708.53 454.3,708.53" fill="#f7941e"/>
<polygon points="485.25,717.47 482.75,721.97 487.75,721.97" fill="#f7941e"/>
<polygon points="518.7,733.15 516.2,737.65 521.2,737.65" fill="#f7941e"/>
<polygon points="552.15,739.12 549.65,743.62 554.65,743.62" fill="#f7941e"/>
<polygon points="585.6,748.83 583.1,753.33 588.1,753.33" fill="#f7941e"/>
<line x1="568.9" y1="672.7" x2="581" y2="672.7" stroke="#2f56b8" stroke-width="1.2"/>
<circle cx="575" cy="672.7" r="2.35" fill="#2f56b8"/>
<text x="587.8" y="675.9" font-size="9.15" fill="#222" stroke="#222" stroke-width="0.22">shGFP</text>
<line x1="568.9" y1="685.7" x2="581" y2="685.7" stroke="#e6321f" stroke-width="1.2"/>
<rect x="572.7" y="683.4" width="4.6" height="4.6" fill="#e6321f"/>
<text x="587.8" y="688.9" font-size="9.15" fill="#222" stroke="#222" stroke-width="0.22">shLINC00675-1</text>
<line x1="568.9" y1="698.6" x2="581" y2="698.6" stroke="#f7941e" stroke-width="1.2"/>
<polygon points="575,695.9 572.5,700.4 577.5,700.4" fill="#f7941e"/>
<text x="587.8" y="701.8" font-size="9.15" fill="#222" stroke="#222" stroke-width="0.22">shLINC00675-2</text>
<text x="192.1" y="862.7" font-size="10.4" text-anchor="middle" fill="#111" stroke="#111" stroke-width="0.22">0h</text>
<text x="218.4" y="862.7" font-size="10.4" text-anchor="middle" fill="#111" stroke="#111" stroke-width="0.22">24h</text>
<text x="241.2" y="862.7" font-size="10.4" text-anchor="middle" fill="#111" stroke="#111" stroke-width="0.22">36h</text>
<text x="267.4" y="862.7" font-size="10.4" text-anchor="middle" fill="#111" stroke="#111" stroke-width="0.22">48h</text>
<text x="294.3" y="862.7" font-size="10.4" text-anchor="middle" fill="#111" stroke="#111" stroke-width="0.22">72h</text>
<rect x="176.2" y="869.4" width="132" height="19.9" fill="#f0f0f0" stroke="#1a1a1a" stroke-width="1.4"/>
<text x="137.9" y="884.2" font-size="10" fill="#111" stroke="#111" stroke-width="0.22">GATA2</text>
<text x="308.4" y="879" font-size="8.6" fill="#111" stroke="#111" stroke-width="0.22">-55KD</text>
<rect x="176.2" y="893" width="132" height="19.9" fill="#e9e9e9" stroke="#1a1a1a" stroke-width="1.4"/>
<text x="137.9" y="904.7" font-size="10" fill="#111" stroke="#111" stroke-width="0.22">&#946;-Actin</text>
<text x="308.4" y="907.8" font-size="8.6" fill="#111" stroke="#111" stroke-width="0.22">-40KD</text>
<rect x="176.2" y="916.9" width="132" height="19" fill="#ececec" stroke="#1a1a1a" stroke-width="1.4"/>
<text x="137.9" y="931.5" font-size="10" fill="#111" stroke="#111" stroke-width="0.22">GATA2</text>
<text x="308.4" y="927.5" font-size="8.6" fill="#111" stroke="#111" stroke-width="0.22">-55KD</text>
<rect x="176.2" y="940.3" width="132" height="19.2" fill="#eeeeee" stroke="#1a1a1a" stroke-width="1.4"/>
<text x="137.9" y="952" font-size="10" fill="#111" stroke="#111" stroke-width="0.22">&#946;-Actin</text>
<text x="308.4" y="954" font-size="8.6" fill="#111" stroke="#111" stroke-width="0.22">-40KD</text>
<rect x="176.2" y="964.1" width="134.5" height="18.4" fill="#f1f1f1" stroke="#1a1a1a" stroke-width="1.4"/>
<text x="137.9" y="979" font-size="10" fill="#111" stroke="#111" stroke-width="0.22">GATA2</text>
<text x="311" y="972.4" font-size="8.6" fill="#111" stroke="#111" stroke-width="0.22">-55KD</text>
<rect x="176.2" y="986.8" width="134.5" height="19.5" fill="#ebebeb" stroke="#1a1a1a" stroke-width="1.4"/>
<text x="137.9" y="999.8" font-size="10" fill="#111" stroke="#111" stroke-width="0.22">&#946;-Actin</text>
<text x="311" y="1000.6" font-size="8.6" fill="#111" stroke="#111" stroke-width="0.22">-40KD</text>
<text x="123.5" y="894.2" font-size="10.3" text-anchor="end" fill="#111" stroke="#111" stroke-width="0.22">pcDNA3.1</text>
<text x="123.5" y="942" font-size="10.3" text-anchor="end" fill="#111" stroke="#111" stroke-width="0.22">pcDNA3.1-LINC00675</text>
<text x="123.5" y="990.6" font-size="10.3" text-anchor="end" fill="#111" stroke="#111" stroke-width="0.22">pcDNA3.1-LINC00675-mut</text>
<line x1="129.4" y1="876.3" x2="129.4" y2="903.4" stroke="#222" stroke-width="1.3"/>
<line x1="129.4" y1="925.2" x2="129.4" y2="952.5" stroke="#222" stroke-width="1.3"/>
<line x1="129.4" y1="974.3" x2="129.4" y2="1001.1" stroke="#222" stroke-width="1.3"/>
<rect x="181.25" y="876.85" width="18.9" height="6.1" rx="2.8" fill="#000" opacity="1" filter="url(#b1)"/>
<rect x="207.45" y="876.45" width="18.5" height="6.5" rx="2.8" fill="#000" opacity="1" filter="url(#b1)"/>
<rect x="234.45" y="877.85" width="16.1" height="4.1" rx="2.05" fill="#000" opacity="1" filter="url(#b1)"/>
<rect x="258.65" y="878.45" width="16.4" height="2.3" rx="1.15" fill="#000" opacity="0.2" filter="url(#b1)"/>
<rect x="268.75" y="878.25" width="5.5" height="2.7" rx="1.35" fill="#000" opacity="0.3" filter="url(#b1)"/>
<rect x="285.45" y="878.45" width="15.3" height="2.3" rx="1.15" fill="#000" opacity="0.16" filter="url(#b1)"/>
<rect x="294.25" y="878.35" width="5.5" height="2.5" rx="1.25" fill="#000" opacity="0.25" filter="url(#b1)"/>
<rect x="182.75" y="899.95" width="18.8" height="4.7" rx="2.35" fill="#000" opacity="1" filter="url(#b1)"/>
<rect x="207.45" y="900.45" width="19.3" height="4.7" rx="2.35" fill="#000" opacity="1" filter="url(#b1)"/>
<rect x="231.25" y="900.75" width="19.3" height="5.1" rx="2.55" fill="#000" opacity="1" filter="url(#b1)"/>
<rect x="255.05" y="901.45" width="20" height="5.7" rx="2.8" fill="#000" opacity="1" filter="url(#b1)"/>
<rect x="280.05" y="901.75" width="20.7" height="6.1" rx="2.8" fill="#000" opacity="1" filter="url(#b1)"/>
<rect x="182.25" y="924.05" width="17.9" height="5.1" rx="2.55" fill="#000" opacity="1" filter="url(#b1)"/>
<rect x="208.05" y="923.95" width="17.3" height="4.7" rx="2.35" fill="#000" opacity="1" filter="url(#b1)"/>
<rect x="232.85" y="924.15" width="18.3" height="4.9" rx="2.45" fill="#000" opacity="1" filter="url(#b1)"/>
<rect x="260.25" y="925.6" width="16.1" height="3.8" rx="1.9" fill="#000" opacity="1" filter="url(#b1)"/>
<rect x="283.45" y="924.75" width="17.8" height="5.1" rx="2.55" fill="#000" opacity="1" filter="url(#b1)"/>
<rect x="182.25" y="948.35" width="20.3" height="4.7" rx="2.35" fill="#000" opacity="1" filter="url(#b1)"/>
<rect x="207.45" y="948.65" width="20.5" height="4.7" rx="2.35" fill="#000" opacity="1" filter="url(#b1)"/>
<rect x="232.85" y="948.75" width="20.3" height="5.1" rx="2.55" fill="#000" opacity="1" filter="url(#b1)"/>
<rect x="257.65" y="948.75" width="21.3" height="5.1" rx="2.55" fill="#000" opacity="1" filter="url(#b1)"/>
<rect x="283.45" y="948.95" width="20.3" height="5.1" rx="2.55" fill="#000" opacity="1" filter="url(#b1)"/>
<rect x="182.25" y="970.25" width="18.7" height="6.1" rx="2.8" fill="#000" opacity="1" filter="url(#b1)"/>
<rect x="208.65" y="969.45" width="18.1" height="6.1" rx="2.8" fill="#000" opacity="1" filter="url(#b1)"/>
<rect x="235.25" y="971.25" width="14.9" height="3.7" rx="1.85" fill="#000" opacity="1" filter="url(#b1)"/>
<rect x="236.25" y="970.95" width="4.5" height="4.3" rx="2.15" fill="#000" opacity="1" filter="url(#b1)"/>
<rect x="245.25" y="970.95" width="4.9" height="4.3" rx="2.15" fill="#000" opacity="1" filter="url(#b1)"/>
<rect x="259.65" y="970.75" width="16.3" height="2.3" rx="1.15" fill="#000" opacity="0.25" filter="url(#b1)"/>
<rect x="268.25" y="970.55" width="6.5" height="2.7" rx="1.35" fill="#000" opacity="0.3" filter="url(#b1)"/>
<rect x="285.45" y="971.05" width="16.3" height="2.3" rx="1.15" fill="#000" opacity="0.2" filter="url(#b1)"/>
<rect x="294.25" y="970.85" width="6.5" height="2.7" rx="1.35" fill="#000" opacity="0.28" filter="url(#b1)"/>
<rect x="181.25" y="993.55" width="20.3" height="5.1" rx="2.55" fill="#000" opacity="1" filter="url(#b1)"/>
<rect x="206.05" y="993.75" width="21.9" height="5.5" rx="2.75" fill="#000" opacity="1" filter="url(#b1)"/>
<rect x="231.85" y="994.45" width="20.3" height="5.1" rx="2.55" fill="#000" opacity="1" filter="url(#b1)"/>
<rect x="257.05" y="994.75" width="21.3" height="5.5" rx="2.75" fill="#000" opacity="1" filter="url(#b1)"/>
<rect x="282.85" y="995.25" width="21.9" height="6.1" rx="2.8" fill="#000" opacity="1" filter="url(#b1)"/>
<text x="540.6" y="864.8" font-size="10.4" text-anchor="middle" fill="#111" stroke="#111" stroke-width="0.22">0h</text>
<text x="567.1" y="864.8" font-size="10.4" text-anchor="middle" fill="#111" stroke="#111" stroke-width="0.22">24h</text>
<text x="590.7" y="864.8" font-size="10.4" text-anchor="middle" fill="#111" stroke="#111" stroke-width="0.22">36h</text>
<text x="616.8" y="864.8" font-size="10.4" text-anchor="middle" fill="#111" stroke="#111" stroke-width="0.22">48h</text>
<text x="643.3" y="864.8" font-size="10.4" text-anchor="middle" fill="#111" stroke="#111" stroke-width="0.22">72h</text>
<rect x="525.7" y="869.3" width="134" height="19.6" fill="#f1f1f1" stroke="#1a1a1a" stroke-width="1.4"/>
<text x="484.8" y="884.5" font-size="10" fill="#111" stroke="#111" stroke-width="0.22">GATA2</text>
<text x="660" y="875.5" font-size="8.6" fill="#111" stroke="#111" stroke-width="0.22">-55KD</text>
<rect x="525.7" y="892.9" width="134" height="19.6" fill="#e3e3e3" stroke="#1a1a1a" stroke-width="1.4"/>
<text x="484.8" y="904.4" font-size="10" fill="#111" stroke="#111" stroke-width="0.22">&#946;-Actin</text>
<text x="660" y="907" font-size="8.6" fill="#111" stroke="#111" stroke-width="0.22">-40KD</text>
<rect x="525.7" y="917" width="134" height="19.3" fill="#f6f6f6" stroke="#1a1a1a" stroke-width="1.4"/>
<text x="484.8" y="932.4" font-size="10" fill="#111" stroke="#111" stroke-width="0.22">GATA2</text>
<text x="660" y="923.7" font-size="8.6" fill="#111" stroke="#111" stroke-width="0.22">-55KD</text>
<rect x="525.7" y="940.3" width="134" height="19.3" fill="#cacaca" stroke="#1a1a1a" stroke-width="1.4"/>
<text x="484.8" y="952.7" font-size="10" fill="#111" stroke="#111" stroke-width="0.22">&#946;-Actin</text>
<text x="660" y="951.4" font-size="8.6" fill="#111" stroke="#111" stroke-width="0.22">-40KD</text>
<rect x="525.7" y="964.1" width="134" height="18.4" fill="#f3f3f3" stroke="#1a1a1a" stroke-width="1.4"/>
<text x="484.8" y="979.8" font-size="10" fill="#111" stroke="#111" stroke-width="0.22">GATA2</text>
<text x="660" y="970.8" font-size="8.6" fill="#111" stroke="#111" stroke-width="0.22">-55KD</text>
<rect x="525.7" y="986.9" width="134" height="19.4" fill="#cbcbcb" stroke="#1a1a1a" stroke-width="1.4"/>
<text x="484.8" y="1000.1" font-size="10" fill="#111" stroke="#111" stroke-width="0.22">&#946;-Actin</text>
<text x="660" y="998.1" font-size="8.6" fill="#111" stroke="#111" stroke-width="0.22">-40KD</text>
<text x="471.2" y="895" font-size="10.3" text-anchor="end" fill="#111" stroke="#111" stroke-width="0.22">shGFP</text>
<text x="471.2" y="943.2" font-size="10.3" text-anchor="end" fill="#111" stroke="#111" stroke-width="0.22">shLINC00675-1</text>
<text x="471.2" y="990.7" font-size="10.3" text-anchor="end" fill="#111" stroke="#111" stroke-width="0.22">shLINC00675-2</text>
<line x1="476.2" y1="877.1" x2="476.2" y2="904.4" stroke="#222" stroke-width="1.3"/>
<line x1="476.2" y1="926.1" x2="476.2" y2="953.7" stroke="#222" stroke-width="1.3"/>
<line x1="476.2" y1="975.5" x2="476.2" y2="1002.6" stroke="#222" stroke-width="1.3"/>
<rect x="532.15" y="874.25" width="19.8" height="9.5" rx="2.8" fill="#000" opacity="1" filter="url(#b1)"/>
<rect x="559.05" y="876.15" width="16.9" height="6.5" rx="2.8" fill="#000" opacity="1" filter="url(#b1)"/>
<rect x="583.25" y="874.65" width="18.5" height="7.1" rx="2.8" fill="#000" opacity="1" filter="url(#b1)"/>
<rect x="611.05" y="876.25" width="15" height="3.1" rx="1.55" fill="#000" opacity="0.5" filter="url(#b1)"/>
<rect x="614.25" y="876.45" width="8.5" height="2.7" rx="1.35" fill="#000" opacity="0.35" filter="url(#b1)"/>
<rect x="635.45" y="875.35" width="16.3" height="4.5" rx="2.25" fill="#000" opacity="0.9" filter="url(#b1)"/>
<rect x="529.65" y="897.75" width="20.9" height="4.9" rx="2.45" fill="#000" opacity="1" filter="url(#b1)"/>
<rect x="555.05" y="898.95" width="20.9" height="5.1" rx="2.55" fill="#000" opacity="1" filter="url(#b1)"/>
<rect x="581.85" y="899.55" width="20.3" height="5.1" rx="2.55" fill="#000" opacity="1" filter="url(#b1)"/>
<rect x="607.05" y="900.95" width="20.9" height="5.7" rx="2.8" fill="#000" opacity="1" filter="url(#b1)"/>
<rect x="632.45" y="901.5" width="22.3" height="6" rx="2.8" fill="#000" opacity="1" filter="url(#b1)"/>
<rect x="533.15" y="921.55" width="18.8" height="8.1" rx="2.8" fill="#000" opacity="1" filter="url(#b1)"/>
<rect x="559.35" y="923.45" width="18" height="5.3" rx="2.65" fill="#000" opacity="1" filter="url(#b1)"/>
<rect x="585.85" y="923.95" width="15.9" height="3.9" rx="1.95" fill="#000" opacity="1" filter="url(#b1)"/>
<rect x="610.65" y="924.15" width="16.3" height="1.5" rx="0.75" fill="#000" opacity="0.1" filter="url(#b1)"/>
<rect x="638.05" y="923.35" width="15.3" height="2.5" rx="1.25" fill="#000" opacity="0.3" filter="url(#b1)"/>
<rect x="532.75" y="946.5" width="21.8" height="7.4" rx="2.8" fill="#000" opacity="1" filter="url(#b1)"/>
<rect x="559.95" y="947.85" width="19.4" height="4.7" rx="2.35" fill="#000" opacity="1" filter="url(#b1)"/>
<rect x="583.85" y="947.25" width="19.9" height="5.7" rx="2.8" fill="#000" opacity="1" filter="url(#b1)"/>
<rect x="608.65" y="947.35" width="19.3" height="5.3" rx="2.65" fill="#000" opacity="1" filter="url(#b1)"/>
<rect x="632.45" y="945.95" width="20.3" height="6.3" rx="2.8" fill="#000" opacity="1" filter="url(#b1)"/>
<rect x="532.25" y="969.15" width="18.9" height="6.9" rx="2.8" fill="#000" opacity="1" filter="url(#b1)"/>
<rect x="558.05" y="970.45" width="18.7" height="5.3" rx="2.65" fill="#000" opacity="1" filter="url(#b1)"/>
<rect x="584.45" y="970.05" width="18.1" height="6.1" rx="2.8" fill="#000" opacity="1" filter="url(#b1)"/>
<rect x="611.65" y="972.05" width="16.3" height="2.5" rx="1.25" fill="#000" opacity="0.3" filter="url(#b1)"/>
<rect x="612.25" y="971.85" width="6.5" height="2.9" rx="1.45" fill="#000" opacity="0.35" filter="url(#b1)"/>
<rect x="638.45" y="970.95" width="15.7" height="4.1" rx="2.05" fill="#000" opacity="0.8" filter="url(#b1)"/>
<rect x="645.25" y="970.75" width="8.9" height="4.5" rx="2.25" fill="#000" opacity="0.5" filter="url(#b1)"/>
<rect x="531.25" y="993.85" width="20.3" height="4.9" rx="2.45" fill="#000" opacity="1" filter="url(#b1)"/>
<rect x="556.05" y="993.85" width="20.7" height="4.9" rx="2.45" fill="#000" opacity="1" filter="url(#b1)"/>
<rect x="582.45" y="993.85" width="19.3" height="4.9" rx="2.45" fill="#000" opacity="1" filter="url(#b1)"/>
<rect x="607.65" y="994.05" width="20.3" height="5.9" rx="2.8" fill="#000" opacity="1" filter="url(#b1)"/>
<rect x="632.85" y="992.55" width="19.9" height="6.1" rx="2.8" fill="#000" opacity="1" filter="url(#b1)"/>
</svg>
</body></html>
